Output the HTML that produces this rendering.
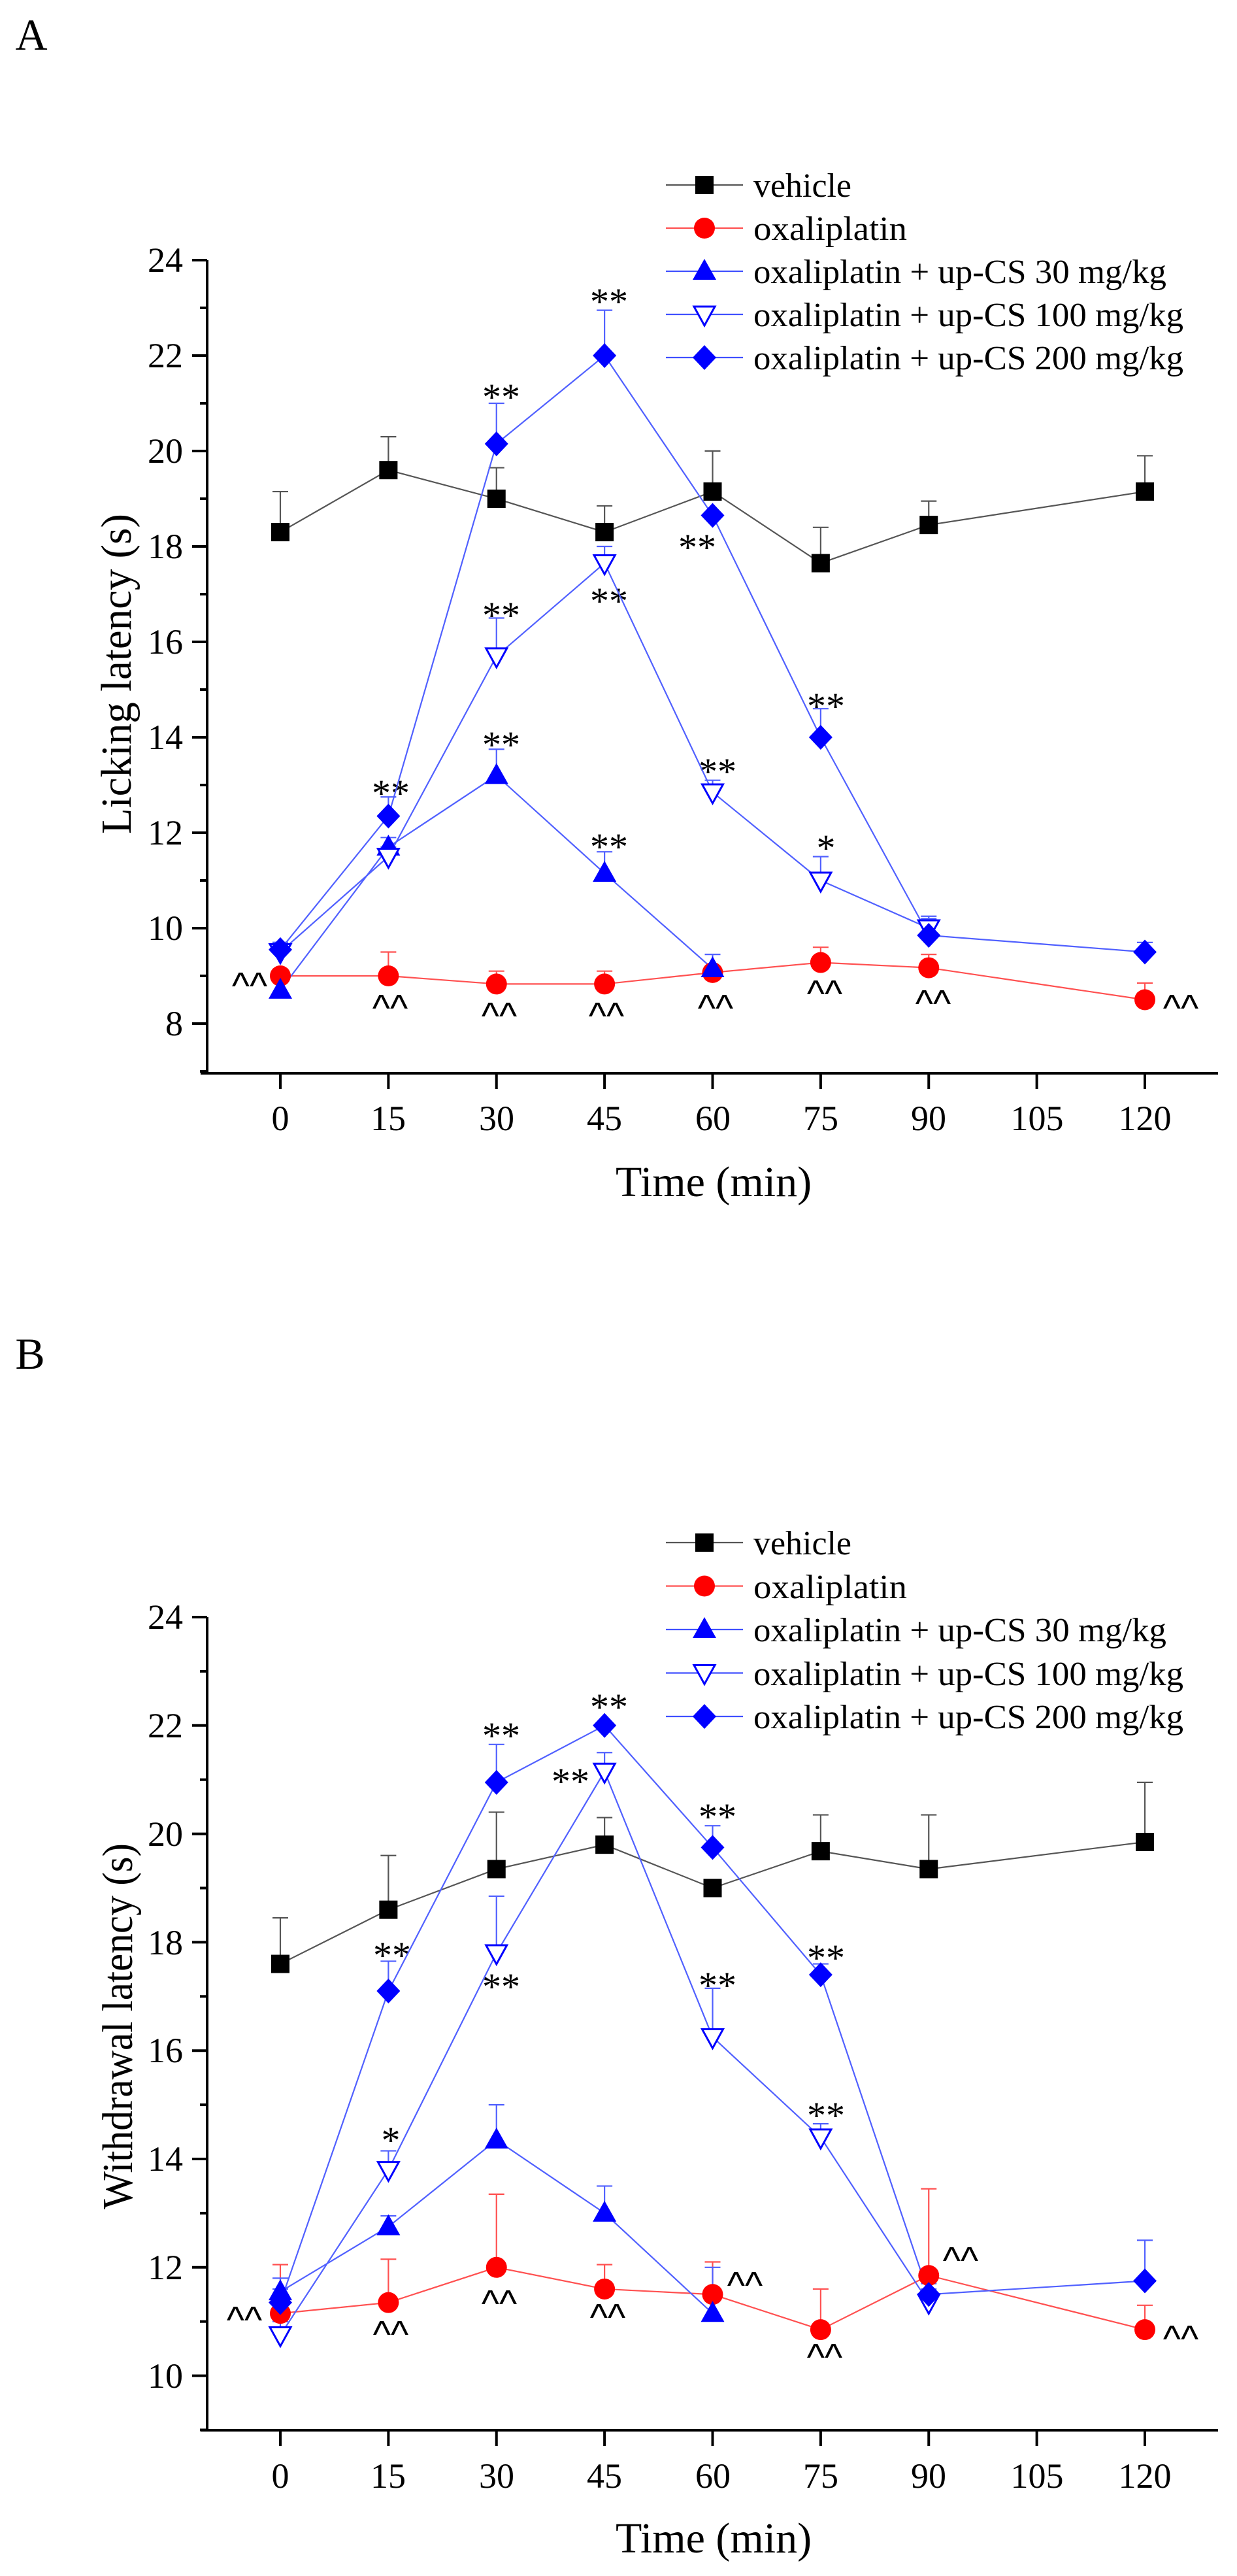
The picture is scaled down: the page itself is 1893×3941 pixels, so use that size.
<!DOCTYPE html>
<html><head><meta charset="utf-8">
<style>
html,body{margin:0;padding:0;background:#fff;}
svg{display:block;}
text{font-family:"Liberation Serif",serif;fill:#000;}
.tk{font-size:54px;text-anchor:middle;}
.yt{font-size:54px;text-anchor:end;}
.lg{font-size:52px;}
.ax{font-size:66px;text-anchor:middle;}
.st{font-size:58px;text-anchor:middle;}
.hat{font-family:"Liberation Sans",sans-serif;font-size:58px;text-anchor:middle;}
</style></head>
<body>
<svg id="s" width="1893" height="3941" viewBox="0 0 1893 3941" xmlns="http://www.w3.org/2000/svg">
<rect width="1893" height="3941" fill="#fff"/>
<text x="48" y="76" font-size="68" text-anchor="middle">A</text>
<text x="46" y="2094" font-size="68" text-anchor="middle">B</text>

<g>
<text class="yt" x="280" y="416">24</text>
<text class="yt" x="280" y="562">22</text>
<text class="yt" x="280" y="708">20</text>
<text class="yt" x="280" y="854">18</text>
<text class="yt" x="280" y="1000">16</text>
<text class="yt" x="280" y="1146">14</text>
<text class="yt" x="280" y="1292">12</text>
<text class="yt" x="280" y="1438">10</text>
<text class="yt" x="280" y="1584">8</text>
<text class="tk" x="429" y="1729">0</text>
<text class="tk" x="594" y="1729">15</text>
<text class="tk" x="760" y="1729">30</text>
<text class="tk" x="925" y="1729">45</text>
<text class="tk" x="1091" y="1729">60</text>
<text class="tk" x="1256" y="1729">75</text>
<text class="tk" x="1421" y="1729">90</text>
<text class="tk" x="1587" y="1729">105</text>
<text class="tk" x="1752" y="1729">120</text>
<text class="ax" x="1092" y="1830">Time (min)</text>
<text class="ax" transform="translate(200,1031) rotate(-90)" textLength="490" lengthAdjust="spacingAndGlyphs">Licking latency (s)</text>
<text class="lg" x="1153" y="301" textLength="150" lengthAdjust="spacingAndGlyphs">vehicle</text>
<text class="lg" x="1153" y="367" textLength="235" lengthAdjust="spacingAndGlyphs">oxaliplatin</text>
<text class="lg" x="1153" y="433" textLength="632" lengthAdjust="spacingAndGlyphs">oxaliplatin + up-CS 30 mg/kg</text>
<text class="lg" x="1153" y="499" textLength="658" lengthAdjust="spacingAndGlyphs">oxaliplatin + up-CS 100 mg/kg</text>
<text class="lg" x="1153" y="565" textLength="658" lengthAdjust="spacingAndGlyphs">oxaliplatin + up-CS 200 mg/kg</text>
</g>
<g>
<text class="st" x="598" y="1233">**</text>
<text class="st" x="767" y="627">**</text>
<text class="st" x="767" y="961">**</text>
<text class="st" x="767" y="1159">**</text>
<text class="st" x="932" y="481">**</text>
<text class="st" x="932" y="939">**</text>
<text class="st" x="932" y="1315">**</text>
<text class="st" x="1067" y="857">**</text>
<text class="st" x="1098" y="1200">**</text>
<text class="st" x="1264" y="1100">**</text>
<text class="st" x="1264" y="1317">*</text>
<text class="hat" x="382" y="1528">^^</text>
<text class="hat" x="597" y="1562">^^</text>
<text class="hat" x="764" y="1574">^^</text>
<text class="hat" x="928" y="1574">^^</text>
<text class="hat" x="1095" y="1562">^^</text>
<text class="hat" x="1262" y="1540">^^</text>
<text class="hat" x="1428" y="1555">^^</text>
<text class="hat" x="1807" y="1562">^^</text>
</g>

<g>
<text class="yt" x="280" y="2492">24</text>
<text class="yt" x="280" y="2658">22</text>
<text class="yt" x="280" y="2824">20</text>
<text class="yt" x="280" y="2990">18</text>
<text class="yt" x="280" y="3155">16</text>
<text class="yt" x="280" y="3321">14</text>
<text class="yt" x="280" y="3487">12</text>
<text class="yt" x="280" y="3653">10</text>
<text class="tk" x="429" y="3806">0</text>
<text class="tk" x="594" y="3806">15</text>
<text class="tk" x="760" y="3806">30</text>
<text class="tk" x="925" y="3806">45</text>
<text class="tk" x="1091" y="3806">60</text>
<text class="tk" x="1256" y="3806">75</text>
<text class="tk" x="1421" y="3806">90</text>
<text class="tk" x="1587" y="3806">105</text>
<text class="tk" x="1752" y="3806">120</text>
<text class="ax" x="1092" y="3905">Time (min)</text>
<text class="ax" transform="translate(202,3100) rotate(-90)" textLength="560" lengthAdjust="spacingAndGlyphs">Withdrawal latency (s)</text>
<text class="lg" x="1153" y="2378" textLength="150" lengthAdjust="spacingAndGlyphs">vehicle</text>
<text class="lg" x="1153" y="2445" textLength="235" lengthAdjust="spacingAndGlyphs">oxaliplatin</text>
<text class="lg" x="1153" y="2511" textLength="632" lengthAdjust="spacingAndGlyphs">oxaliplatin + up-CS 30 mg/kg</text>
<text class="lg" x="1153" y="2578" textLength="658" lengthAdjust="spacingAndGlyphs">oxaliplatin + up-CS 100 mg/kg</text>
<text class="lg" x="1153" y="2644" textLength="658" lengthAdjust="spacingAndGlyphs">oxaliplatin + up-CS 200 mg/kg</text>
</g>
<g>
<text class="st" x="600" y="3011">**</text>
<text class="st" x="767" y="2675">**</text>
<text class="st" x="767" y="3059">**</text>
<text class="st" x="932" y="2631">**</text>
<text class="st" x="873" y="2745">**</text>
<text class="st" x="1098" y="2799">**</text>
<text class="st" x="1098" y="3057">**</text>
<text class="st" x="1264" y="3015">**</text>
<text class="st" x="1264" y="3256">**</text>
<text class="st" x="598" y="3294">*</text>
<text class="hat" x="374" y="3569">^^</text>
<text class="hat" x="598" y="3591">^^</text>
<text class="hat" x="764" y="3544">^^</text>
<text class="hat" x="930" y="3565">^^</text>
<text class="hat" x="1140" y="3516">^^</text>
<text class="hat" x="1262" y="3626">^^</text>
<text class="hat" x="1470" y="3478">^^</text>
<text class="hat" x="1807" y="3598">^^</text>
</g>
<g id="g"></g>
</svg>
<script>
(function(){
var NS="http://www.w3.org/2000/svg",G=document.getElementById("g");
function el(n,a){var e=document.createElementNS(NS,n);for(var k in a)e.setAttribute(k,a[k]);G.appendChild(e);return e;}
function X(t){return 429+t*11.025;}
function marker(type,x,y){
 if(type=="sq")el("rect",{x:x-14,y:y-14,width:28,height:28,fill:"#000"});
 else if(type=="ci")el("circle",{cx:x,cy:y,r:16,fill:"#ff0000"});
 else if(type=="tu")el("polygon",{points:(x)+","+(y-19)+" "+(x-18)+","+(y+13)+" "+(x+18)+","+(y+13),fill:"#0000ff"});
 else if(type=="td")el("polygon",{points:(x-16)+","+(y-12)+" "+(x+16)+","+(y-12)+" "+x+","+(y+17),fill:"#fff",stroke:"#0000ff","stroke-width":3});
 else if(type=="di")el("polygon",{points:x+","+(y-19)+" "+(x+18)+","+y+" "+x+","+(y+19)+" "+(x-18)+","+y,fill:"#0000ff"});
}
function axes(top,bot,vTop,vBot,unit){
 el("line",{x1:317,y1:top,x2:317,y2:bot+2,stroke:"#000","stroke-width":4});
 el("line",{x1:307,y1:bot,x2:1864,y2:bot,stroke:"#000","stroke-width":4});
 for(var v=vBot;v<=vTop;v++){var y=top+(vTop-v)*unit;var maj=(v%2==0);
  el("line",{x1:maj?294:306,y1:y,x2:317,y2:y,stroke:"#000","stroke-width":4});}
 for(var t=0;t<=120;t+=15)el("line",{x1:X(t),y1:bot,x2:X(t),y2:bot+24,stroke:"#000","stroke-width":4});
}
function series(Y,ts,vals,errs,type,lc,ec){
 var pts=[];for(var i=0;i<ts.length;i++)pts.push(X(ts[i])+","+Y(vals[i]));
 el("polyline",{points:pts.join(" "),fill:"none",stroke:lc,"stroke-width":2.2});
 for(var i=0;i<ts.length;i++){if(errs[i]==null)continue;var x=X(ts[i]);
  el("line",{x1:x,y1:Y(vals[i]),x2:x,y2:Y(errs[i]),stroke:ec,"stroke-width":2.2});
  el("line",{x1:x-12,y1:Y(errs[i]),x2:x+12,y2:Y(errs[i]),stroke:ec,"stroke-width":2.2});}
 return function(){for(var i=0;i<ts.length;i++)marker(type,X(ts[i]),Y(vals[i]));};
}
function legend(y0,dy){
 var L=[["sq","#555"],["ci","#ff5050"],["tu","#4050ff"],["td","#4050ff"],["di","#4050ff"]];
 for(var i=0;i<5;i++){var y=y0+i*dy;
  el("line",{x1:1019,y1:y,x2:1137,y2:y,stroke:L[i][1],"stroke-width":2.2});marker(L[i][0],1078,y);}
}
var T8=[0,15,30,45,60,75,90,120],T7=[0,15,30,45,60,75,90],T5=[0,15,30,45,60];
var BL="#5060ff",RL="#ff5050",GL="#555";
var YA=function(v){return 398+(24-v)*73;};
axes(398,1642,24,7,73);
[
 series(YA,T8,[18.3,19.6,19.0,18.3,19.15,17.65,18.45,19.15],[19.15,20.3,19.65,18.85,20.0,18.4,18.95,19.9],"sq",GL,GL),
 series(YA,T8,[9.0,9.0,8.83,8.83,9.07,9.28,9.17,8.5],[9.1,9.5,9.1,9.1,9.2,9.6,9.45,8.85],"ci",RL,RL),
 series(YA,T5,[8.7,11.7,13.2,11.15,9.15],[9.0,11.9,13.75,11.6,9.45],"tu",BL,BL),
 series(YA,T7,[9.5,11.5,15.7,17.65,12.85,11.0,10.0],[9.7,11.7,16.5,18.0,13.1,11.5,10.2],"td",BL,BL),
 series(YA,T8,[9.55,12.35,20.15,22.0,18.65,14.0,9.85,9.5],[9.7,12.75,21.0,22.95,null,14.6,10.25,9.7],"di",BL,BL)
].forEach(function(f){f();});
legend(283,66);
var YB=function(v){return 2474+(24-v)*82.9;};
axes(2474,3718,24,9,82.9);
[
 series(YB,T8,[17.6,18.6,19.35,19.8,19.0,19.68,19.35,19.85],[18.45,19.6,20.4,20.3,null,20.35,20.35,20.95],"sq",GL,GL),
 series(YB,T8,[11.15,11.35,12.0,11.6,11.5,10.85,11.85,10.85],[12.05,12.15,13.35,12.05,12.1,11.6,13.45,11.3],"ci",RL,RL),
 series(YB,T5,[11.55,12.75,14.35,13.0,11.15],[11.8,12.95,15.0,13.5,12.0],"tu",BL,BL),
 series(YB,T7,[10.75,13.8,17.8,21.15,16.25,14.4,11.35],[11.0,14.15,18.85,21.5,17.15,14.65,11.6],"td",BL,BL),
 series(YB,T8,[11.35,17.1,20.95,22.0,19.75,17.4,11.5,11.75],[11.6,17.65,21.65,22.0,20.15,17.6,11.7,12.5],"di",BL,BL)
].forEach(function(f){f();});
legend(2360,66.5);
})();
</script>
</body></html>
